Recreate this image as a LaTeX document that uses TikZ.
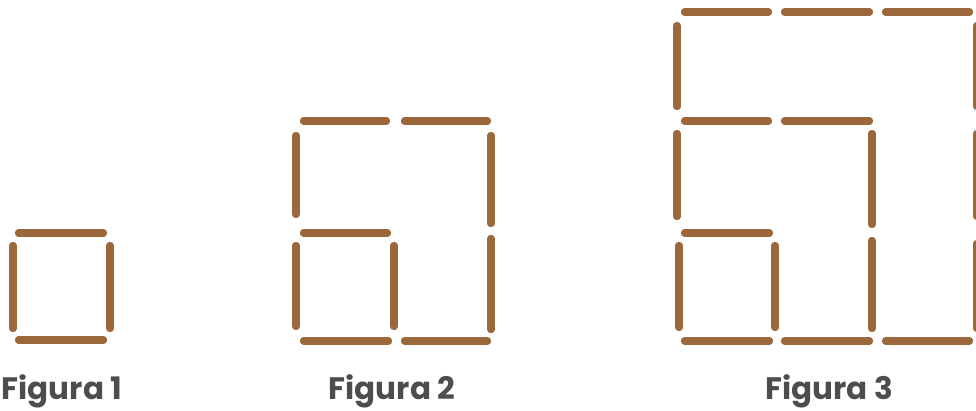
\documentclass[tikz,border=0pt]{standalone}
\usepackage{fontspec}
\setmainfont{Poppins}
\definecolor{match}{RGB}{154,104,58}
\definecolor{lbl}{RGB}{77,77,77}
\newcommand{\hm}[3]{\draw[matchstick] ({#2+3.5},#1) -- ({#3-3.5},#1);}
\newcommand{\vm}[3]{\draw[matchstick] (#1,{#2+3.5}) -- (#1,{#3-3.5});}
\begin{document}
\begin{tikzpicture}[x=1pt,y=-1pt,
  matchstick/.style={draw=match,line width=7.3pt,line cap=round},
  caption/.style={text=lbl,anchor=base,inner sep=0pt,font=\fontsize{31}{33}\selectfont\bfseries}]
\useasboundingbox (0,0) rectangle (976,410);
% Figura 1
\hm{233}{15}{107}
\hm{340}{15}{107}
\vm{13}{242}{332}
\vm{110}{242}{332}
% Figura 2
\hm{121}{300}{390}
\hm{121}{401}{491}
\hm{233}{300}{391}
\hm{341}{300}{392}
\hm{341}{401}{491}
\vm{296}{132}{218}
\vm{296}{242}{330}
\vm{394}{242}{330}
\vm{491}{132}{227}
\vm{491}{235}{333}
% Figura 3
\hm{12}{681}{772}
\hm{12}{781}{873}
\hm{12}{882}{973}
\hm{121}{681}{772}
\hm{121}{781}{873}
\hm{233}{681}{773}
\hm{341}{681}{773}
\hm{341}{781}{873}
\hm{341}{882}{973}
\vm{677}{22}{110}
\vm{677}{130}{220}
\vm{679}{242}{331}
\vm{775}{242}{331}
\vm{872}{130}{228}
\vm{872}{237}{332}
\vm{977}{22}{110}
\vm{977}{130}{220}
\vm{977}{240}{332}
% captions
\node[caption] (c1) at (62,399) {Figura 1};
\node[caption] (c2) at (392,399) {Figura 2};
\node[caption] (c3) at (829,399) {Figura 3};
\end{tikzpicture}
\end{document}
